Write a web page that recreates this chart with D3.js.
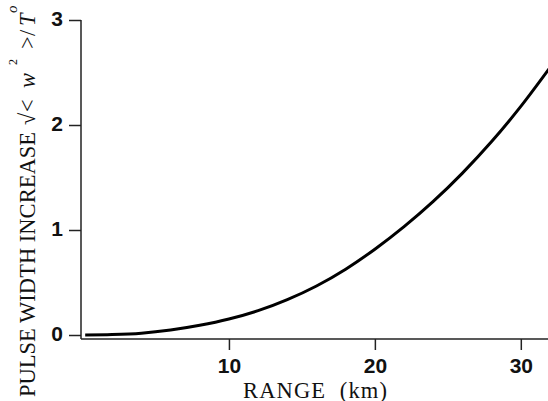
<!DOCTYPE html>
<html>
<head>
<meta charset="utf-8">
<script src="https://cdn.jsdelivr.net/npm/d3@7"></script>
<style>
  body { margin: 0; background: #fff; }
  svg { display: block; }
  text { white-space: pre; }
</style>
</head>
<body>
<div id="chart"></div>
<script>
// Pulse width increase vs range.

const RANGE_KM = [0.15, 2, 4, 6, 8, 10, 12, 14, 16, 18, 20, 22, 24, 26, 28, 30, 32];
const WIDTH_INC = [0, 0.004, 0.017, 0.047, 0.092, 0.152, 0.232, 0.337, 0.467, 0.627, 0.817, 1.032, 1.272, 1.542, 1.842, 2.177, 2.547];
const X_TICKS = [10, 20, 30];
const Y_TICKS = [0, 1, 2, 3];

const W = 548, H = 401;
const AXIS_X = 81, AXIS_Y = 339;

const svg = d3.select("#chart").append("svg").attr("width", W).attr("height", H);

const x = d3.scaleLinear().domain([0, 32]).range([83, 550]);
const y = d3.scaleLinear().domain([0, 3]).range([335, 20]);

// frame lines
svg.append("line")
  .attr("x1", AXIS_X).attr("x2", AXIS_X).attr("y1", y(3)).attr("y2", AXIS_Y)
  .attr("stroke", "#222").attr("stroke-width", 1.5);
svg.append("line")
  .attr("x1", AXIS_X).attr("x2", W).attr("y1", AXIS_Y).attr("y2", AXIS_Y)
  .attr("stroke", "#222").attr("stroke-width", 1.5);

const tickFont = "'Liberation Sans', Arial, sans-serif";

svg.append("g").attr("transform", `translate(${AXIS_X},0)`)
  .call(d3.axisLeft(y).tickValues(Y_TICKS).tickSize(12).tickPadding(6).tickFormat(d3.format("d")))
  .call(ax => ax.select(".domain").remove())
  .call(ax => ax.selectAll(".tick line").attr("stroke", "#222").attr("stroke-width", 1.5))
  .selectAll("text")
  .attr("dy", "0.25em")
  .style("font-family", tickFont).style("font-weight", "bold").style("font-size", "21px").style("fill", "#111");

svg.append("g").attr("transform", `translate(0,${AXIS_Y})`)
  .call(d3.axisBottom(x).tickValues(X_TICKS).tickSize(11).tickPadding(8).tickFormat(d3.format("d")))
  .call(ax => ax.select(".domain").remove())
  .call(ax => ax.selectAll(".tick line").attr("stroke", "#222").attr("stroke-width", 1.5))
  .selectAll("text")
  .style("font-family", tickFont).style("font-weight", "bold").style("font-size", "21px").style("fill", "#111");

// curve
const pts = RANGE_KM.map((r, i) => [r, WIDTH_INC[i]]);
svg.append("path").datum(pts)
  .attr("fill", "none").attr("stroke", "#000").attr("stroke-width", 3)
  .attr("d", d3.line().x(d => x(d[0])).y(d => y(d[1])).curve(d3.curveMonotoneX));

// axis titles
const serif = "'Liberation Serif', 'Times New Roman', serif";

svg.append("text")
  .attr("x", 243).attr("y", 398)
  .attr("textLength", 144).attr("lengthAdjust", "spacing")
  .style("font-family", serif).style("font-size", "22.5px").style("fill", "#111")
  .text("RANGE  (km)");

// y title: pieces placed along the rotated baseline
const yl = svg.append("g").attr("transform", "translate(35,397) rotate(-90)")
  .style("font-family", serif).style("fill", "#111");
yl.append("text").attr("x", 0).attr("y", 0)
  .attr("textLength", 265).attr("lengthAdjust", "spacing")
  .style("font-size", "22.5px").text("PULSE WIDTH INCREASE");
const ylt = yl.append("text").style("font-size", "22.5px");
ylt.append("tspan").attr("x", 272).attr("y", 0).text("√");
ylt.append("tspan").attr("x", 285).attr("y", 0).text("<");
ylt.append("tspan").attr("x", 309).attr("y", 0).style("font-style", "italic").text("w");
ylt.append("tspan").attr("x", 332).attr("y", -18).style("font-size", "12px").text("2");
ylt.append("tspan").attr("x", 348).attr("y", 0).text(">");
ylt.append("tspan").attr("x", 361).attr("y", 0).text("/");
ylt.append("tspan").attr("x", 371).attr("y", 0).style("font-style", "italic").text("T");
ylt.append("tspan").attr("x", 384).attr("y", -18).style("font-style", "italic").style("font-size", "15px").text("o");
</script>
</body>
</html>
